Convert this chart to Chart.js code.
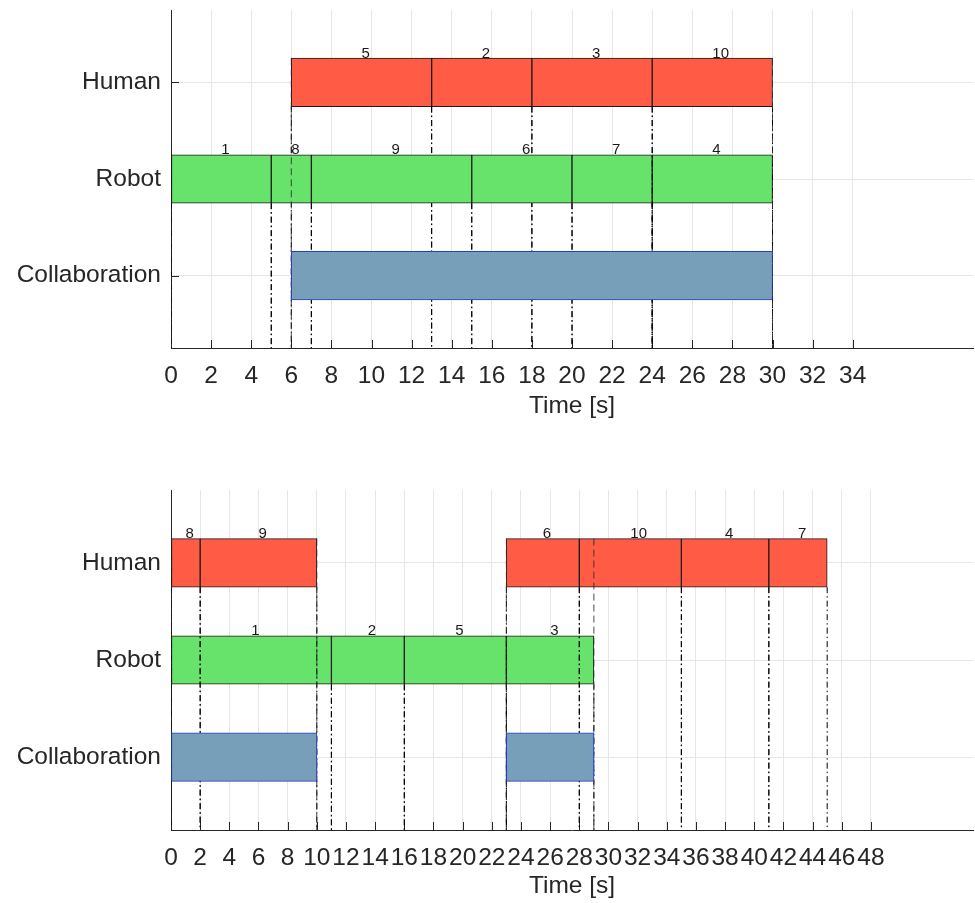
<!DOCTYPE html>
<html>
<head>
<meta charset="utf-8">
<script src="https://cdn.jsdelivr.net/npm/chart.js@4.4.1/dist/chart.umd.min.js"></script>
<style>
html, body { margin: 0; padding: 0; background: #ffffff; }
#c1 { position: absolute; left: 0; top: 0; }
#c2 { position: absolute; left: 0; top: 450px; }
</style>
</head>
<body>
<canvas id="c1" width="975" height="450"></canvas>
<canvas id="c2" width="975" height="453"></canvas>
<script>
// ---------------- DATA ----------------
const categories = ['Collaboration', 'Robot', 'Human'];   // rows 1, 2, 3 (bottom to top)
const xTitle = 'Time [s]';
const taskIds = [1, 2, 3, 4, 5, 6, 7, 8, 9, 10];

// Schedule 1 (top chart)
const topAgent = ['Robot', 'Human', 'Human', 'Robot', 'Human', 'Robot', 'Robot', 'Robot', 'Robot', 'Human'];
const topStart = [0, 13, 18, 24, 6, 15, 20, 5, 7, 24];
const topEnd   = [5, 18, 24, 30, 13, 20, 24, 7, 15, 30];
const topCollabStart = [6];
const topCollabEnd   = [30];
const topXTicks = [0, 2, 4, 6, 8, 10, 12, 14, 16, 18, 20, 22, 24, 26, 28, 30, 32, 34];
const topXMax = 40;

// Schedule 2 (bottom chart)
const botAgent = ['Robot', 'Robot', 'Robot', 'Human', 'Robot', 'Human', 'Human', 'Human', 'Human', 'Human'];
const botStart = [0, 11, 23, 35, 16, 23, 41, 0, 2, 28];
const botEnd   = [11, 16, 29, 41, 23, 28, 45, 2, 10, 35];
const botCollabStart = [0, 23];
const botCollabEnd   = [10, 29];
const botXTicks = [0, 2, 4, 6, 8, 10, 12, 14, 16, 18, 20, 22, 24, 26, 28, 30, 32, 34, 36, 38, 40, 42, 44, 46, 48];
const botXMax = 55;

// ---------------- STYLE ----------------
const FONT = "'Liberation Sans', Arial, Helvetica, sans-serif";
const AGENT_COLORS = { Human: '#FF5B45', Robot: '#67E36B' };
const COLLAB_FILL = '#789FBA';
const COLLAB_EDGE = '#2B3CC8';
const AXIS = '#262626';
const GRID = '#e6e6e6';
const HALF = 0.25;        // half bar height in row units
const Y_MIN = 0.25, Y_MAX = 3.75;
const DASHDOT = [6, 3, 1.5, 3];
const DASHED = [7, 4];

function rowOf(name) { return categories.indexOf(name) + 1; }

function vline(x, yTop, dash, color) {
  return {
    type: 'line',
    data: [{ x: x, y: yTop }, { x: x, y: Y_MIN }],
    borderColor: color, borderWidth: 1, borderDash: dash,
    pointRadius: 0, pointHoverRadius: 0, fill: false, tension: 0
  };
}

function buildDatasets(agent, start, end, cStart, cEnd) {
  const seq = [];
  taskIds.forEach((id, i) => {
    const row = rowOf(agent[i]);
    seq.push({
      type: 'bar',
      taskLabel: String(id),
      data: [{ x: [start[i], end[i]], y: row }],
      backgroundColor: AGENT_COLORS[agent[i]],
      borderColor: '#1a1a1a', borderWidth: 1, borderSkipped: false,
      barThickness: 48.5, grouped: false
    });
    [start[i], end[i]].forEach(v => seq.push(vline(v, row - HALF, DASHDOT, '#000000')));
  });
  cStart.forEach((s, j) => {
    [s, cEnd[j]].forEach(v => seq.push(vline(v, rowOf('Human') + HALF, DASHED, 'rgba(45,45,45,0.85)')));
  });
  cStart.forEach((s, j) => {
    seq.push({
      type: 'bar',
      data: [{ x: [s, cEnd[j]], y: rowOf('Collaboration') }],
      backgroundColor: COLLAB_FILL,
      borderColor: COLLAB_EDGE, borderWidth: 1, borderSkipped: false,
      barThickness: 48.5, grouped: false
    });
  });
  const n = seq.length;
  seq.forEach((d, k) => { d.order = n - k; });   // first in sequence is drawn first
  return seq;
}

const labelPlugin = {
  id: 'taskLabels',
  afterDatasetsDraw(chart) {
    const { ctx, scales: { x, y } } = chart;
    ctx.save();
    ctx.font = '15px ' + FONT;
    ctx.fillStyle = '#1a1a1a';
    ctx.textAlign = 'left';
    ctx.textBaseline = 'alphabetic';
    chart.data.datasets.forEach(ds => {
      if (!ds.taskLabel) return;
      const d = ds.data[0];
      const cx = x.getPixelForValue((d.x[0] + d.x[1]) / 2);
      const top = y.getPixelForValue(d.y + HALF);
      ctx.fillText(ds.taskLabel, cx, top - 0.5);
    });
    ctx.restore();
  }
};

const inwardTicks = {
  id: 'inwardTicks',
  beforeDatasetsDraw(chart) {
    const { ctx, chartArea: a, scales: { x, y } } = chart;
    ctx.save();
    ctx.strokeStyle = AXIS;
    ctx.lineWidth = 1;
    ctx.beginPath();
    x.ticks.forEach(t => {
      const px = Math.round(x.getPixelForValue(t.value)) + 0.5;
      ctx.moveTo(px, a.bottom); ctx.lineTo(px, a.bottom - 8);
    });
    y.ticks.forEach(t => {
      const py = Math.round(y.getPixelForValue(t.value)) + 0.5;
      ctx.moveTo(a.left, py); ctx.lineTo(a.left + 8, py);
    });
    ctx.stroke();
    ctx.restore();
  }
};

function makeChart(id, datasets, xTicks, xMax, padTop, xAxisH, titlePad) {
  return new Chart(document.getElementById(id), {
    type: 'bar',
    data: { datasets: datasets },
    plugins: [inwardTicks, labelPlugin],
    options: {
      indexAxis: 'y',
      responsive: false,
      animation: false,
      events: [],
      layout: { padding: { top: padTop, right: 2, left: 0, bottom: 0 } },
      plugins: { legend: { display: false }, tooltip: { enabled: false } },
      scales: {
        x: {
          type: 'linear', position: 'bottom', min: 0, max: xMax, offset: false,
          afterBuildTicks: s => { s.ticks = xTicks.map(v => ({ value: v })); },
          afterFit: s => { s.height = xAxisH; s.paddingLeft = 0; s.paddingRight = 0; },
          grid: { color: GRID, lineWidth: 1, drawTicks: false, offset: false },
          border: { display: true, color: AXIS, width: 1 },
          ticks: { autoSkip: false, maxRotation: 0, minRotation: 0, padding: 14, color: AXIS,
                   font: { family: FONT, size: 24.5 } },
          title: { display: true, text: xTitle, color: AXIS, font: { family: FONT, size: 24.5 },
                   padding: { top: 0, bottom: titlePad } }
        },
        y: {
          type: 'linear', position: 'left', min: Y_MIN, max: Y_MAX, offset: false,
          afterBuildTicks: s => { s.ticks = categories.map((c, i) => ({ value: i + 1 })); },
          afterFit: s => { s.width = 171; s.paddingTop = 0; s.paddingBottom = 0; },
          grid: { color: GRID, lineWidth: 1, drawTicks: false, offset: false },
          border: { display: true, color: AXIS, width: 1 },
          ticks: { padding: 10, color: AXIS, font: { family: FONT, size: 24.5 },
                   callback: v => categories[Math.round(v) - 1] }
        }
      }
    }
  });
}

makeChart('c1', buildDatasets(topAgent, topStart, topEnd, topCollabStart, topCollabEnd),
          topXTicks, topXMax, 10, 102, 29.3);
makeChart('c2', buildDatasets(botAgent, botStart, botEnd, botCollabStart, botCollabEnd),
          botXTicks, botXMax, 40, 73, 2.3);
</script>
</body>
</html>
